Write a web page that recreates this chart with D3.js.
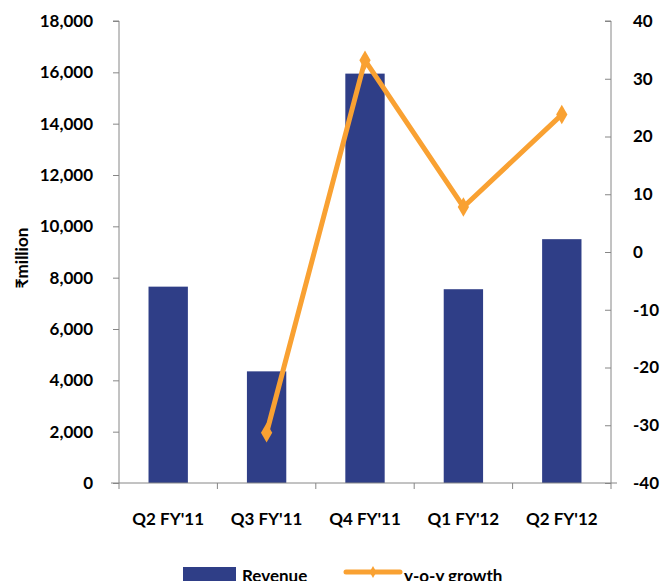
<!doctype html>
<html lang="en">
  <head>
    <meta charset="utf-8">
    <title>Revenue and y-o-y growth</title>
    <style type="text/css">
      body { margin: 0; background-color: #ffffff; }
      text { font-family: Lato, "Open Sans", sans-serif; font-weight: bold; fill: #000000; }
    </style>
  </head>
  <body>
    <script src="https://d3js.org/d3.v7.min.js"></script>
    <script>
  // data
  var quarters = ["Q2 FY'11", "Q3 FY'11", "Q4 FY'11", "Q1 FY'12", "Q2 FY'12"];
  var revenue = [7650, 4350, 15950, 7550, 9500];
  var growth = [null, -31.3, 33.2, 7.8, 23.8];
  var leftTicks = [0, 2000, 4000, 6000, 8000, 10000, 12000, 14000, 16000, 18000];
  var rightTicks = [-40, -30, -20, -10, 0, 10, 20, 30, 40];

  var w = 665;
  var h = 581;
  var plotL = 119, plotR = 611, plotT = 21, plotB = 483;

  var barColor = "#2f3e87";
  var lineColor = "#f9a132";
  var axisColor = "#868686";

  var svg = d3.select("body")
    .append("svg")
    .attr("width", w)
    .attr("height", h);

  var x = d3.scaleBand()
    .domain(quarters)
    .range([plotL, plotR])
    .paddingInner(0.6)
    .paddingOuter(0.3);

  var yLeft = d3.scaleLinear().domain([0, 18000]).range([plotB, plotT]);
  var yRight = d3.scaleLinear().domain([-40, 40]).range([plotB, plotT]);

  // bars
  svg.append("g").selectAll("rect")
    .data(revenue)
    .enter()
    .append("rect")
    .attr("x", function(d, i) { return x(quarters[i]); })
    .attr("y", function(d) { return yLeft(d); })
    .attr("width", x.bandwidth())
    .attr("height", function(d) { return plotB - yLeft(d); })
    .style("fill", barColor);

  // left axis
  var axL = svg.append("g")
    .attr("transform", "translate(" + plotL + ",0)")
    .call(d3.axisLeft(yLeft).tickValues(leftTicks).tickSize(6).tickPadding(20).tickFormat(d3.format(",")));
  axL.selectAll("text").style("font-size", "17px");

  // right axis, ticks point inward; plain hyphen for negatives like the original
  var axR = svg.append("g")
    .attr("transform", "translate(" + plotR + ",0)")
    .call(d3.axisRight(yRight).tickValues(rightTicks).tickSize(-6).tickPadding(22)
      .tickFormat(function(d) { return String(d); }));
  axR.selectAll("text").style("font-size", "17px");

  // x axis with ticks between categories
  var axX = svg.append("g").attr("transform", "translate(0," + plotB + ")");
  axX.append("line")
    .attr("x1", plotL - 8).attr("x2", plotR + 6)
    .style("stroke", axisColor);
  axX.selectAll("line.tk")
    .data(d3.range(quarters.length + 1))
    .enter()
    .append("line")
    .attr("class", "tk")
    .attr("x1", function(i) { return plotL + i * x.step(); })
    .attr("x2", function(i) { return plotL + i * x.step(); })
    .attr("y1", 0).attr("y2", 6)
    .style("stroke", axisColor);
  axX.selectAll("text")
    .data(quarters)
    .enter()
    .append("text")
    .attr("x", function(d) { return x(d) + x.bandwidth() / 2; })
    .attr("y", 42)
    .attr("text-anchor", "middle")
    .style("font-size", "17px")
    .text(function(d) { return d; });

  svg.selectAll(".domain, .tick line").style("stroke", axisColor);
  axL.select(".domain").attr("d", "M-6," + plotT + "H0V" + plotB);
  axR.select(".domain").attr("d", "M-6," + plotT + "H0V" + plotB);

  // y axis title
  svg.append("text")
    .attr("transform", "translate(28,258) rotate(-90)")
    .attr("text-anchor", "middle")
    .style("font-size", "17px")
    .text("₹million");

  // growth line
  var line = d3.line()
    .defined(function(d) { return d != null; })
    .x(function(d, i) { return x(quarters[i]) + x.bandwidth() / 2; })
    .y(function(d) { return yRight(d); });

  svg.append("path")
    .datum(growth)
    .attr("d", line)
    .style("fill", "none")
    .style("stroke", lineColor)
    .style("stroke-width", 5)
    .style("stroke-linejoin", "round");

  svg.append("g").selectAll("path")
    .data(growth.map(function(d, i) { return { v: d, q: quarters[i] }; }).filter(function(d) { return d.v != null; }))
    .enter()
    .append("path")
    .attr("d", d3.symbol().type(d3.symbolDiamond).size(110))
    .attr("transform", function(d) {
      return "translate(" + (x(d.q) + x.bandwidth() / 2) + "," + yRight(d.v) + ")";
    })
    .style("fill", lineColor);

  // legend
  var lg = svg.append("g");
  lg.append("rect")
    .attr("x", 183).attr("y", 567).attr("width", 53).attr("height", 16)
    .style("fill", barColor);
  lg.append("text")
    .attr("x", 242).attr("y", 582)
    .style("font-size", "17px")
    .text("Revenue");
  lg.append("line")
    .attr("x1", 346).attr("x2", 400).attr("y1", 572).attr("y2", 572)
    .style("stroke", lineColor).style("stroke-width", 5).style("stroke-linecap", "round");
  lg.append("path")
    .attr("d", d3.symbol().type(d3.symbolDiamond).size(40))
    .attr("transform", "translate(373,572)")
    .style("fill", lineColor);
  lg.append("text")
    .attr("x", 404).attr("y", 582)
    .style("font-size", "17px")
    .text("y-o-y growth");
    </script>
  </body>
</html>
